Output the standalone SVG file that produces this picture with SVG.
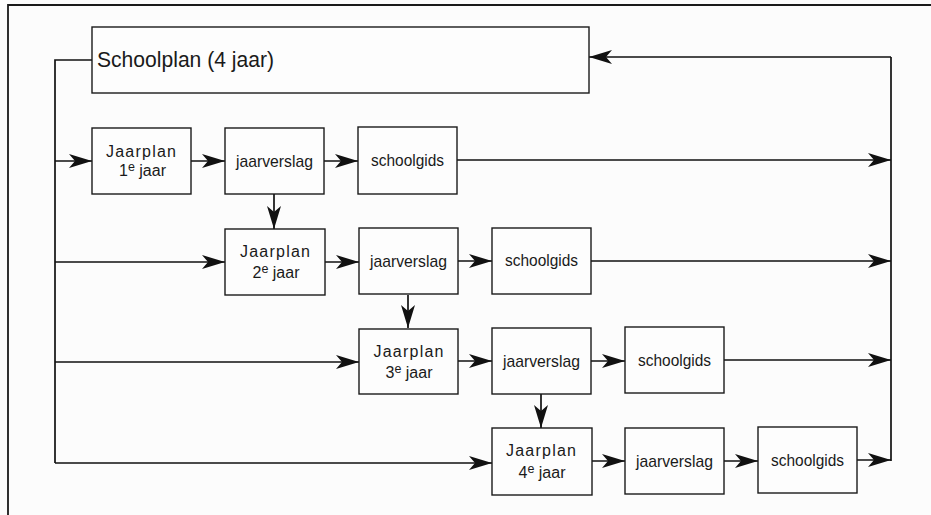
<svg xmlns="http://www.w3.org/2000/svg" width="931" height="515" viewBox="0 0 931 515">
<style>
.box{fill:#fdfdfd;stroke:#1a1a1a;stroke-width:1.4}
.ln{fill:none;stroke:#111;stroke-width:1.7}
.arr{marker-end:url(#ah)}
text{font-family:"Liberation Sans",Arial,sans-serif;fill:#1a1a1a;text-anchor:middle}
.t{font-size:17px}
.jp{font-size:16px}
.sub{font-size:16px}
.big{font-size:22px;text-anchor:start}
</style>
<defs>
<marker id="ah" markerUnits="userSpaceOnUse" markerWidth="26" markerHeight="16" viewBox="-24 -8 26 16" refX="0" refY="0" orient="auto">
<path d="M0,0 L-23,-7 L-17,0 L-23,7 Z" fill="#111"/>
</marker>
</defs>
<rect x="0" y="0" width="931" height="515" fill="#fcfcfc"/>
<path d="M8,515 V5 H931" fill="none" stroke="#1a1a1a" stroke-width="1.8"/>

<g id="connectors">
<path class="ln" d="M92,60 H55 V463"/>
<path class="ln arr" d="M55,161 H92"/>
<path class="ln arr" d="M55,262 H225"/>
<path class="ln arr" d="M55,362 H359"/>
<path class="ln arr" d="M55,463 H492"/>
<path class="ln" d="M891,57 V461"/>
<path class="ln arr" d="M891,57 H589"/>
<path class="ln arr" d="M191,161 H225"/>
<path class="ln arr" d="M324,161 H358"/>
<path class="ln arr" d="M457,160 H891"/>
<path class="ln arr" d="M325,262 H359"/>
<path class="ln arr" d="M458,261 H492"/>
<path class="ln arr" d="M591,261 H891"/>
<path class="ln arr" d="M458,361 H492"/>
<path class="ln arr" d="M591,361 H625"/>
<path class="ln arr" d="M724,360 H891"/>
<path class="ln arr" d="M592,461 H625"/>
<path class="ln arr" d="M724,461 H758"/>
<path class="ln arr" d="M857,460 H891"/>
<path class="ln arr" d="M274,194 V229"/>
<path class="ln arr" d="M408,295 V328"/>
<path class="ln arr" d="M541,394 V428"/>
</g>

<g id="schoolplan">
<rect class="box" x="92" y="27" width="497" height="66"/>
<text class="big" x="97" y="67" textLength="177" lengthAdjust="spacingAndGlyphs">Schoolplan (4 jaar)</text>
</g>

<g id="jaarplan1">
<rect class="box" x="92" y="128" width="99" height="66"/>
<text class="jp" x="141" y="157" textLength="70" lengthAdjust="spacing">Jaarplan</text>
<text class="sub" x="142.5" y="176"><tspan>1</tspan><tspan dy="-5" font-size="12.5">e</tspan><tspan dy="5"> jaar</tspan></text>
</g>
<g id="jaarverslag1">
<rect class="box" x="225" y="128" width="99" height="66"/>
<text class="t" x="274.5" y="167" textLength="77" lengthAdjust="spacingAndGlyphs">jaarverslag</text>
</g>
<g id="schoolgids1">
<rect class="box" x="358" y="127" width="99" height="67"/>
<text class="t" x="407.5" y="166" textLength="73" lengthAdjust="spacingAndGlyphs">schoolgids</text>
</g>

<g id="jaarplan2">
<rect class="box" x="225" y="229" width="100" height="66"/>
<text class="jp" x="275" y="257" textLength="70" lengthAdjust="spacing">Jaarplan</text>
<text class="sub" x="276" y="278"><tspan>2</tspan><tspan dy="-5" font-size="12.5">e</tspan><tspan dy="5"> jaar</tspan></text>
</g>
<g id="jaarverslag2">
<rect class="box" x="359" y="228" width="99" height="66"/>
<text class="t" x="408.5" y="267" textLength="77" lengthAdjust="spacingAndGlyphs">jaarverslag</text>
</g>
<g id="schoolgids2">
<rect class="box" x="492" y="228" width="99" height="66"/>
<text class="t" x="541.5" y="266" textLength="73" lengthAdjust="spacingAndGlyphs">schoolgids</text>
</g>

<g id="jaarplan3">
<rect class="box" x="359" y="329" width="99" height="65"/>
<text class="jp" x="408.5" y="357" textLength="70" lengthAdjust="spacing">Jaarplan</text>
<text class="sub" x="409" y="378"><tspan>3</tspan><tspan dy="-5" font-size="12.5">e</tspan><tspan dy="5"> jaar</tspan></text>
</g>
<g id="jaarverslag3">
<rect class="box" x="492" y="328" width="99" height="66"/>
<text class="t" x="541.5" y="367" textLength="77" lengthAdjust="spacingAndGlyphs">jaarverslag</text>
</g>
<g id="schoolgids3">
<rect class="box" x="625" y="327" width="99" height="66"/>
<text class="t" x="674.5" y="366" textLength="73" lengthAdjust="spacingAndGlyphs">schoolgids</text>
</g>

<g id="jaarplan4">
<rect class="box" x="492" y="428" width="100" height="67"/>
<text class="jp" x="541" y="456" textLength="70" lengthAdjust="spacing">Jaarplan</text>
<text class="sub" x="542" y="478"><tspan>4</tspan><tspan dy="-5" font-size="12.5">e</tspan><tspan dy="5"> jaar</tspan></text>
</g>
<g id="jaarverslag4">
<rect class="box" x="625" y="428" width="99" height="66"/>
<text class="t" x="674.5" y="467" textLength="77" lengthAdjust="spacingAndGlyphs">jaarverslag</text>
</g>
<g id="schoolgids4">
<rect class="box" x="758" y="427" width="99" height="66"/>
<text class="t" x="807.5" y="466" textLength="73" lengthAdjust="spacingAndGlyphs">schoolgids</text>
</g>
</svg>
